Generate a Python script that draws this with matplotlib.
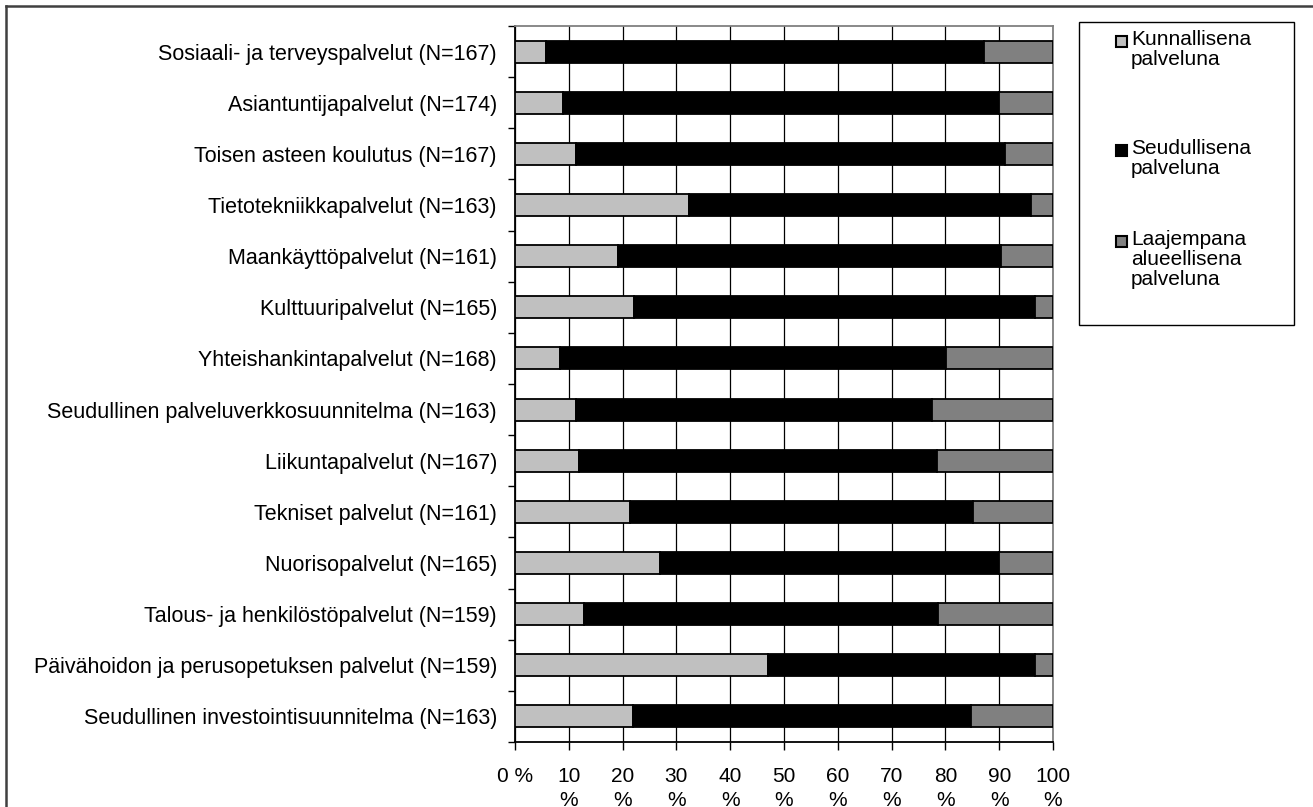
import numpy as np
import matplotlib.pyplot as plt
from matplotlib.patches import Rectangle
from matplotlib.lines import Line2D

plt.rcParams['font.family'] = ['Liberation Sans', 'DejaVu Sans']

# Data (%), rows from top to bottom
categories = [
    'Sosiaali- ja terveyspalvelut (N=167)',
    'Asiantuntijapalvelut (N=174)',
    'Toisen asteen koulutus (N=167)',
    'Tietotekniikkapalvelut (N=163)',
    'Maankäyttöpalvelut (N=161)',
    'Kulttuuripalvelut (N=165)',
    'Yhteishankintapalvelut (N=168)',
    'Seudullinen palveluverkkosuunnitelma (N=163)',
    'Liikuntapalvelut (N=167)',
    'Tekniset palvelut (N=161)',
    'Nuorisopalvelut (N=165)',
    'Talous- ja henkilöstöpalvelut (N=159)',
    'Päivähoidon ja perusopetuksen palvelut (N=159)',
    'Seudullinen investointisuunnitelma (N=163)',
]
kunnallinen = [5.7, 9.0, 11.3, 32.4, 19.1, 22.2, 8.4, 11.3, 11.9, 21.3, 27.0, 12.9, 47.0, 21.9]
laajempi = [12.9, 10.1, 9.0, 4.1, 9.6, 3.4, 19.9, 22.5, 21.6, 14.8, 10.0, 21.3, 3.4, 15.3]
seudullinen = [100 - k - l for k, l in zip(kunnallinen, laajempi)]

series_labels = ['Kunnallisena\npalveluna', 'Seudullisena\npalveluna',
                 'Laajempana\nalueellisena\npalveluna']
colors = ['#C0C0C0', '#000000', '#808080']
xtick_labels = ['0 %'] + [f'{v}\n%' for v in range(10, 101, 10)]

W, H = 1313, 807
FS = 15
fig = plt.figure(figsize=(W / 100, H / 100), dpi=100)
ax = fig.add_axes([515 / W, 1 - 742 / H, (1053 - 515) / W, (742 - 26) / H])

y = np.arange(len(categories))
left = np.zeros(len(categories))
for vals, col in zip([kunnallinen, seudullinen, laajempi], colors):
    ax.barh(y, vals, left=left, height=0.43, color=col, edgecolor='black',
            linewidth=1.3, zorder=3)
    left += np.array(vals)

ax.set_xlim(0, 100)
ax.set_ylim(len(categories) - 0.5, -0.5)
ax.set_xticks(np.arange(0, 101, 10))
ax.set_xticklabels(xtick_labels, fontsize=FS, linespacing=1.3)
ax.set_yticks(y)
ax.set_yticklabels(categories, fontsize=15.5)
ax.set_yticks(np.arange(-0.5, len(categories), 1), minor=True)
ax.tick_params(axis='y', which='major', length=0, pad=13)
ax.tick_params(axis='y', which='minor', length=5, width=1, color='black', direction='out')
ax.tick_params(axis='x', length=6, width=1, direction='out', pad=12)
ax.grid(axis='x', color='black', linewidth=0.9, zorder=0)

ax.spines['left'].set_color('black')
ax.spines['bottom'].set_color('black')
ax.spines['left'].set_linewidth(1.3)
ax.spines['bottom'].set_linewidth(1.3)
ax.spines['top'].set_color('#808080')
ax.spines['right'].set_color('#808080')
ax.spines['top'].set_linewidth(1.3)
ax.spines['right'].set_linewidth(1.3)

# outer chart frame (top and left edges visible)
fig.add_artist(Line2D([6 / W, 6 / W], [0, 1 - 6 / H], color='#404040', lw=1.8))
fig.add_artist(Line2D([6 / W, 1], [1 - 6 / H, 1 - 6 / H], color='#404040', lw=1.8))

# legend box
fig.add_artist(Rectangle((1079 / W, 1 - 325 / H), (1294 - 1079) / W, (325 - 22) / H,
                         transform=fig.transFigure, facecolor='white',
                         edgecolor='black', lw=1))
entry_centers = [41, 150, 241]
for lab, col, c in zip(series_labels, colors, entry_centers):
    fig.add_artist(Rectangle((1116 / W, 1 - (c + 6) / H), 11 / W, 11 / H,
                             transform=fig.transFigure, facecolor=col,
                             edgecolor='black', lw=1.5))
    fig.text(1131 / W, 1 - (c - 11) / H, lab, fontsize=FS, va='top', ha='left',
             linespacing=1.08)

fig.savefig('out.png', dpi=100)
